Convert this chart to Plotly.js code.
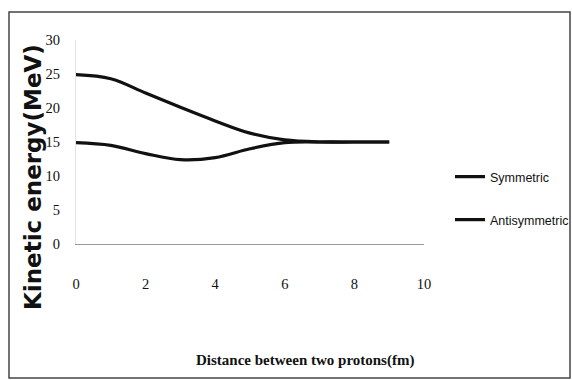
<!DOCTYPE html>
<html>
<head>
<meta charset="utf-8">
<script src="https://cdn.plot.ly/plotly-3.0.1.min.js"></script>
<style>
html,body{margin:0;padding:0;background:#fff;}
#chart{width:572px;height:380px;}
</style>
</head>
<body>
<div id="chart"></div>
<script>
// Data
var distance = [0, 1, 2, 3, 4, 5, 6, 7, 8, 9];
var symmetric = [24.9, 24.3, 22.2, 20.1, 18.1, 16.3, 15.3, 15.0, 15, 15];
var antisymmetric = [14.9, 14.5, 13.3, 12.4, 12.7, 14.0, 14.9, 15.0, 15, 15];
var xTicks = [0, 2, 4, 6, 8, 10];
var yTicks = [0, 5, 10, 15, 20, 25, 30];
var seriesNames = ['Symmetric', 'Antisymmetric'];

var serif = '"Liberation Serif", "Times New Roman", serif';
var sans = '"Liberation Sans", Arial, sans-serif';
var heavy = '"DejaVu Sans", sans-serif';

var traces = [
  {x: distance, y: symmetric, name: seriesNames[0], mode: 'lines',
   line: {color: '#111', width: 3.2, shape: 'spline', smoothing: 1}, legend: 'legend'},
  {x: distance, y: antisymmetric, name: seriesNames[1], mode: 'lines',
   line: {color: '#111', width: 3.2, shape: 'spline', smoothing: 1}, legend: 'legend2'}
];

var L = 76, R = 148, T = 40, B = 136, W = 572 - L - R, H = 380 - T - B;
function px(x){ return (x - L) / W; }
function py(y){ return (380 - B - y) / H; }

var layout = {
  width: 572, height: 380,
  margin: {l: L, r: R, t: T, b: B, pad: 0, autoexpand: false},
  paper_bgcolor: '#fff', plot_bgcolor: '#fff',
  font: {family: serif, color: '#111', size: 12},
  xaxis: {
    range: [0, 10], tickvals: xTicks, ticktext: xTicks.map(String),
    showgrid: false, zeroline: false, showline: true, linecolor: '#999', linewidth: 1,
    ticks: '', ticklabelstandoff: 27,
    tickfont: {family: serif, size: 14.5, color: '#111'}
  },
  yaxis: {
    range: [0, 30], tickvals: yTicks, ticktext: yTicks.map(String),
    showgrid: false, zeroline: false, showline: true, linecolor: '#e4e4e4', linewidth: 1,
    ticks: '', ticklabelstandoff: 12,
    tickfont: {family: serif, size: 14.5, color: '#111'}
  },
  showlegend: true,
  legend: {x: px(450), y: py(177), xanchor: 'left', yanchor: 'middle',
           bgcolor: 'rgba(0,0,0,0)', borderwidth: 0,
           font: {family: sans, size: 12.5, color: '#111'}},
  legend2: {x: px(450), y: py(220), xanchor: 'left', yanchor: 'middle',
            bgcolor: 'rgba(0,0,0,0)', borderwidth: 0,
            font: {family: sans, size: 12.5, color: '#111'}},
  annotations: [
    {text: 'Kinetic energy(MeV)', xref: 'paper', yref: 'paper', x: px(33), y: py(177),
     xanchor: 'center', yanchor: 'middle', textangle: -90, showarrow: false,
     font: {family: heavy, size: 23, color: '#111', weight: 'bold'}},
    {text: 'Distance between two protons(fm)', xref: 'paper', yref: 'paper', x: px(305), y: py(360),
     xanchor: 'center', yanchor: 'middle', showarrow: false,
     font: {family: serif, size: 15, color: '#111', weight: 'bold'}}
  ],
  shapes: [
    {type: 'rect', xref: 'paper', yref: 'paper', x0: px(9), x1: px(570), y0: py(378), y1: py(12),
     line: {color: '#444', width: 1.5}, fillcolor: 'rgba(0,0,0,0)', layer: 'below'}
  ]
};

Plotly.newPlot('chart', traces, layout, {displayModeBar: false, staticPlot: true});
</script>
</body>
</html>
